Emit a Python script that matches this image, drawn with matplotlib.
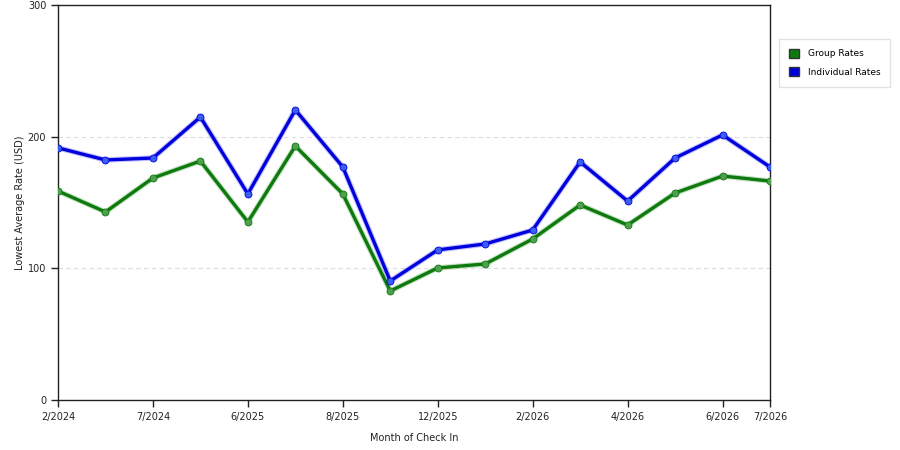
import matplotlib
matplotlib.use("Agg")
import matplotlib.pyplot as plt
from matplotlib.patches import Patch

months = ["2/2024", "", "7/2024", "", "6/2025", "", "8/2025", "", "12/2025", "",
          "2/2026", "", "4/2026", "", "6/2026", "7/2026"]
group_rates = [158.7, 142.8, 168.6, 181.5, 135.2, 192.9, 156.5, 82.8,
               100.3, 103.3, 122.3, 148.1, 132.9, 157.2, 170.1, 166.3]
individual_rates = [191.5, 182.3, 183.8, 214.9, 156.5, 220.3, 177.0, 90.4,
                    114.0, 118.5, 129.1, 180.8, 151.1, 183.8, 201.3, 177.0]

GREEN = "#0e7a0e"
BLUE = "#0000dd"
FONT_COLOR = "#222222"
FS = 7

plt.rcParams["font.family"] = ["DejaVu Sans"]

fig = plt.figure(figsize=(9, 4.5), dpi=100)
ax = fig.add_axes([58 / 900, 50 / 450, 712 / 900, 395 / 450])

x = list(range(len(months)))
for vals, col, halo, mk in [(group_rates, GREEN, "#7fc07f", "#4f9f4f"),
                             (individual_rates, BLUE, "#8080ff", "#3a5ef0")]:
    ax.plot(x, vals, color=halo, lw=4.0, alpha=0.45, zorder=2)
    ax.plot(x, vals, color=col, lw=2.4, zorder=3)
    ax.plot(x, vals, ls="none", marker="o", ms=5.0, mfc=mk, mec=col,
            mew=0.6, zorder=4)

ax.set_xlim(0, len(months) - 1)
ax.set_ylim(0, 300)
ax.set_yticks([0, 100, 200, 300])
ticks = [i for i, m in enumerate(months) if m]
ax.set_xticks(ticks)
ax.set_xticklabels([months[i] for i in ticks])
ax.tick_params(labelsize=FS, colors=FONT_COLOR, length=5, width=1)
for sp in ax.spines.values():
    sp.set_color("#222222")
    sp.set_linewidth(1)

for yv in [100, 200]:
    ax.axhline(yv, color="#dddddd", lw=0.8, ls=(0, (4, 3)), zorder=1)

ax.set_xlabel("Month of Check In", fontsize=FS, color=FONT_COLOR, labelpad=8)
ax.set_ylabel("Lowest Average Rate (USD)", fontsize=FS, color=FONT_COLOR, labelpad=2)

handles = [Patch(facecolor=GREEN, edgecolor="#333333", label="Group Rates"),
           Patch(facecolor=BLUE, edgecolor="#333333", label="Individual Rates")]
fig.legend(handles=handles, loc="upper left", bbox_to_anchor=(779 / 900, 1 - 39 / 450),
           fontsize=6.5, frameon=True, fancybox=False, edgecolor="#dddddd",
           handlelength=1.1, handleheight=1.1, borderpad=1.1, labelspacing=1.0,
           handletextpad=1.0, borderaxespad=0)

fig.savefig("out.png", dpi=100, facecolor="white")
